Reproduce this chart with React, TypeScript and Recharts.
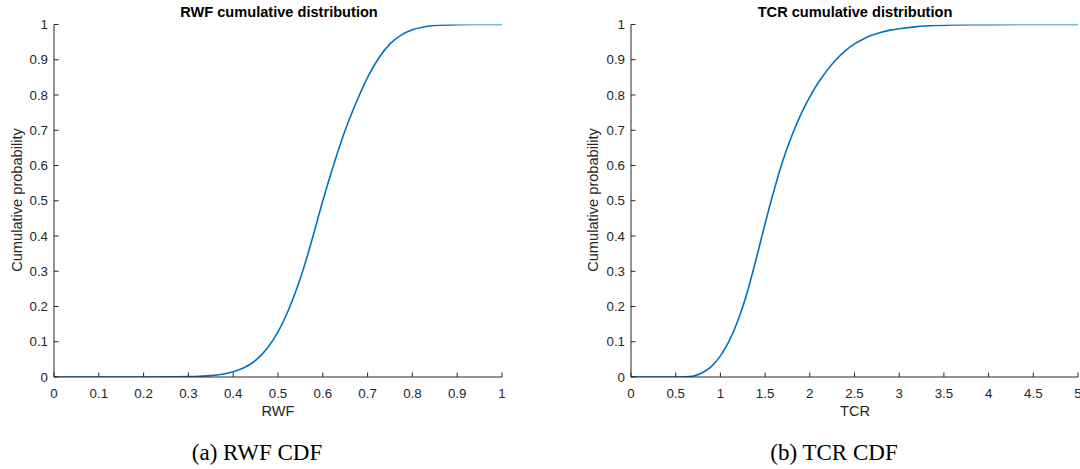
import React from "react";
import { LineChart, Line, XAxis, YAxis } from "recharts";

// ---------- data ----------
const rwfX = [0, 0.1, 0.2, 0.25, 0.3, 0.325, 0.35, 0.375, 0.4, 0.425, 0.45, 0.475, 0.5, 0.525, 0.55, 0.575, 0.6, 0.625, 0.65, 0.675, 0.7, 0.725, 0.75, 0.775, 0.8, 0.825, 0.85, 0.9, 0.95, 1];
const rwfP = [0, 0, 0, 0.0003, 0.001, 0.002, 0.004, 0.008, 0.015, 0.027, 0.047, 0.08, 0.128, 0.195, 0.28, 0.385, 0.5, 0.605, 0.7, 0.78, 0.85, 0.905, 0.945, 0.97, 0.985, 0.993, 0.997, 0.9995, 1, 1];

const tcrX = [0, 0.5, 0.6, 0.7, 0.8, 0.9, 1.0, 1.1, 1.2, 1.3, 1.4, 1.5, 1.6, 1.7, 1.8, 1.9, 2.0, 2.1, 2.2, 2.3, 2.4, 2.5, 2.6, 2.7, 2.8, 2.9, 3.0, 3.2, 3.4, 3.6, 3.8, 4.0, 4.5, 5];
const tcrP = [0, 0, 0.0005, 0.003, 0.012, 0.03, 0.06, 0.103, 0.163, 0.24, 0.335, 0.435, 0.53, 0.615, 0.685, 0.745, 0.795, 0.837, 0.872, 0.902, 0.926, 0.945, 0.959, 0.97, 0.978, 0.984, 0.988, 0.994, 0.997, 0.9985, 0.9993, 0.9997, 1, 1];

const rwfTicks = [0, 0.1, 0.2, 0.3, 0.4, 0.5, 0.6, 0.7, 0.8, 0.9, 1];
const tcrTicks = [0, 0.5, 1, 1.5, 2, 2.5, 3, 3.5, 4, 4.5, 5];
const probTicks = [0, 0.1, 0.2, 0.3, 0.4, 0.5, 0.6, 0.7, 0.8, 0.9, 1];

const rwfData = rwfX.map((x, i) => ({ x, p: rwfP[i] }));
const tcrData = tcrX.map((x, i) => ({ x, p: tcrP[i] }));

// ---------- style ----------
const FONT = '"Liberation Sans", Arial, Helvetica, sans-serif';
const SERIF = '"Liberation Serif", "Times New Roman", serif';
const AXIS = "#262626";
const LINE = "#0072BD";
const TICK_LEN = 4.5;

const XTick = (props: any) => {
  const { x, y, payload } = props;
  return (
    <g>
      <line x1={x} y1={y} x2={x} y2={y - TICK_LEN} stroke={AXIS} strokeWidth={1} />
      <text x={x} y={y + 16} textAnchor="middle" dominantBaseline="central" fontSize={13.3} fontFamily={FONT} fill={AXIS}>
        {String(payload.value)}
      </text>
    </g>
  );
};

const YTick = (props: any) => {
  const { x, y, payload } = props;
  return (
    <g>
      <line x1={x} y1={y} x2={x + TICK_LEN} y2={y} stroke={AXIS} strokeWidth={1} />
      <text x={x - 6} y={y} textAnchor="end" dominantBaseline="central" fontSize={13.3} fontFamily={FONT} fill={AXIS}>
        {String(payload.value)}
      </text>
    </g>
  );
};

const abs = (cx: number, cy: number, extra: React.CSSProperties = {}): React.CSSProperties => ({
  position: "absolute",
  left: cx,
  top: cy,
  transform: "translate(-50%, -50%)",
  whiteSpace: "nowrap",
  lineHeight: 1,
  ...extra,
});

type PanelProps = {
  data: { x: number; p: number }[];
  ticks: number[];
  xMax: number;
  left: number;
  width: number;
  yAxisWidth: number;
  marginRight: number;
};

const Panel = ({ data, ticks, xMax, left, width, yAxisWidth, marginRight }: PanelProps) => (
  <div style={{ position: "absolute", left, top: 0 }}>
    <LineChart width={width} height={469} data={data} margin={{ top: 24.5, right: marginRight, bottom: 62, left: 0 }}>
      <XAxis
        type="number"
        dataKey="x"
        domain={[0, xMax]}
        ticks={ticks}
        interval={0}
        height={30}
        tickSize={0}
        tickMargin={0}
        tickLine={false}
        tick={<XTick />}
        axisLine={{ stroke: AXIS, strokeWidth: 1 }}
        allowDataOverflow
      />
      <YAxis
        type="number"
        domain={[0, 1]}
        ticks={probTicks}
        interval={0}
        width={yAxisWidth}
        tickSize={0}
        tickMargin={0}
        tickLine={false}
        tick={<YTick />}
        axisLine={{ stroke: AXIS, strokeWidth: 1 }}
        allowDataOverflow
      />
      <Line type="monotone" dataKey="p" stroke={LINE} strokeWidth={1.6} dot={false} isAnimationActive={false} />
    </LineChart>
  </div>
);

export default function App() {
  return (
    <div style={{ position: "absolute", left: 0, top: 0, width: 1080, height: 469, background: "#fff", overflow: "hidden", fontFamily: FONT }}>
      <Panel data={rwfData} ticks={rwfTicks} xMax={1} left={0} width={540} yAxisWidth={54} marginRight={38} />
      <Panel data={tcrData} ticks={tcrTicks} xMax={5} left={576} width={504} yAxisWidth={55} marginRight={2} />

      <div style={abs(279, 12, { fontSize: 14.6, fontWeight: "bold", color: "#000" })}>RWF cumulative distribution</div>
      <div style={abs(278, 411, { fontSize: 14.6, color: AXIS })}>RWF</div>
      <div style={abs(17, 200, { fontSize: 14.6, color: AXIS, transform: "translate(-50%, -50%) rotate(-90deg)" })}>Cumulative probability</div>
      <div style={abs(257, 452, { fontSize: 23, fontFamily: SERIF, color: "#000" })}>(a) RWF CDF</div>

      <div style={abs(855, 12, { fontSize: 14.6, fontWeight: "bold", color: "#000" })}>TCR cumulative distribution</div>
      <div style={abs(855, 411, { fontSize: 14.6, color: AXIS })}>TCR</div>
      <div style={abs(593, 200, { fontSize: 14.6, color: AXIS, transform: "translate(-50%, -50%) rotate(-90deg)" })}>Cumulative probability</div>
      <div style={abs(834, 452, { fontSize: 23, fontFamily: SERIF, color: "#000" })}>(b) TCR CDF</div>
    </div>
  );
}
